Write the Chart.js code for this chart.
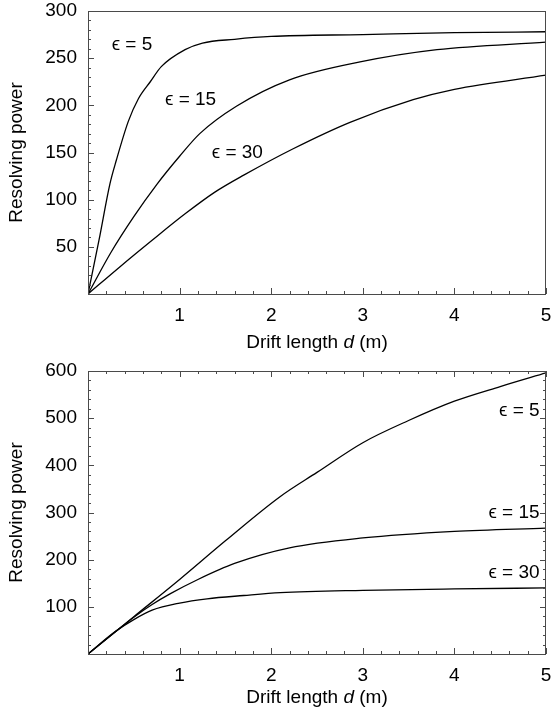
<!DOCTYPE html>
<html lang="en">
<head>
<meta charset="UTF-8">
<title>Resolving power vs drift length</title>
<script src="https://cdn.jsdelivr.net/npm/chart.js@4"></script>
<style>
  body { margin: 0; background: #fff; }
  .painel { position: relative; width: 553px; }
  #topo { height: 355px; }
  #baixo { height: 360px; }
</style>
</head>
<body>
<div class="painel" id="topo"><canvas id="grafico_topo"></canvas></div>
<div class="painel" id="baixo"><canvas id="grafico_baixo"></canvas></div>

<script>
// values: drift length d (m) -> resolving power
// top panel
var topD5 = [0, 0.12, 0.24, 0.31, 0.44, 0.55, 0.68, 0.8, 1.06, 1.25, 1.6, 2, 3, 4, 5];
var topR5 = [0, 57, 117, 142, 183, 207, 225, 241, 259, 266, 270, 273, 275, 277, 278];
var topD15 = [0, 0.25, 0.5, 0.75, 1.0, 1.22, 1.62, 2.2, 2.97, 3.81, 5];
var topR15 = [0, 44, 82, 116, 146, 170, 199, 227, 246, 259, 267];
var topD30 = [0, 0.35, 0.7, 1.06, 1.385, 1.7, 2.24, 2.86, 3.55, 4, 5];
var topR30 = [0, 29, 57, 85, 108, 126, 154, 182, 206, 217, 232];

// bottom panel
var botD5 = [0, 0.5, 1, 1.5, 2.1, 2.5, 3, 3.5, 4, 4.5, 5];
var botR5 = [0, 79, 158, 240, 334, 385, 448, 495, 536, 567, 596];
var botD15 = [0, 0.3, 0.5, 0.7, 0.9, 1.2, 1.6, 2.2, 3, 4, 5];
var botR15 = [0, 47, 78, 105, 128, 158, 192, 225, 246, 260, 267];
var botD30 = [0, 0.3, 0.5, 0.7, 1.0, 1.3, 1.7, 2.1, 3, 4, 5];
var botR30 = [0, 48, 73, 93, 108, 117, 124, 130, 135, 138, 140];

// curve labels and where they sit (in data units)
var rotulos = ["\u03F5 = 5", "\u03F5 = 15", "\u03F5 = 30"];
var topRotD = [0.48, 1.12, 1.63];
var topRotR = [264, 206, 150];
var botRotD = [4.93, 4.93, 4.93];
var botRotR = [516, 300, 173];

var fonte = "'Liberation Sans', Arial, sans-serif";

function pontos(ds, rs) {
    var lista = [];
    for (var i = 0; i < ds.length; i++) {
        lista.push({ x: ds[i], y: rs[i] });
    }
    return lista;
}

function serie(ds, rs) {
    return {
        data: pontos(ds, rs),
        borderColor: "#000",
        borderWidth: 1.3,
        pointRadius: 0,
        fill: false,
        cubicInterpolationMode: "monotone"
    };
}

// frame, inward ticks, curve labels and the x title with italic d
const moldura = {
    id: "moldura",
    afterDraw(chart, args, opts) {
        const ctx = chart.ctx;
        const a = chart.chartArea;
        const sx = chart.scales.x;
        const sy = chart.scales.y;
        ctx.save();
        ctx.strokeStyle = "#4a4a4a";
        ctx.lineWidth = 1;
        ctx.strokeRect(a.left + 0.5, a.top + 0.5, a.right - a.left - 1, a.bottom - a.top);

        ctx.beginPath();
        for (let i = 0; i <= 25; i++) {
            const px = Math.round(sx.getPixelForValue(i * 0.2)) + 0.5;
            const len = i % 5 == 0 ? 6 : 3;
            ctx.moveTo(px, a.bottom);
            ctx.lineTo(px, a.bottom - len);
            if (opts.todosLados) {
                ctx.moveTo(px, a.top);
                ctx.lineTo(px, a.top + len);
            }
        }
        for (let v = 0; v <= opts.yMax; v += opts.yMenor) {
            const py = Math.round(sy.getPixelForValue(v)) + 0.5;
            const len = v % opts.yMaior == 0 ? 6 : 3;
            ctx.moveTo(a.left, py);
            ctx.lineTo(a.left + len, py);
            if (opts.todosLados) {
                ctx.moveTo(a.right, py);
                ctx.lineTo(a.right - len, py);
            }
        }
        ctx.stroke();

        ctx.fillStyle = "#000";
        ctx.font = "19px " + fonte;
        ctx.textBaseline = "middle";
        ctx.textAlign = opts.alinhar;
        for (let i = 0; i < rotulos.length; i++) {
            ctx.fillText(rotulos[i], sx.getPixelForValue(opts.rotD[i]), sy.getPixelForValue(opts.rotR[i]));
        }

        // x title: "Drift length d (m)"
        const partes = [["Drift length ", "19px "], ["d", "italic 19px "], [" (m)", "19px "]];
        let total = 0;
        for (const p of partes) {
            ctx.font = p[1] + fonte;
            total += ctx.measureText(p[0]).width;
        }
        let x = (a.left + a.right) / 2 - total / 2;
        const y = chart.height - opts.tituloBaixo;
        ctx.textAlign = "left";
        for (const p of partes) {
            ctx.font = p[1] + fonte;
            ctx.fillText(p[0], x, y);
            x += ctx.measureText(p[0]).width;
        }
        ctx.restore();
    }
};

function criarGrafico(id, series, yMax, yPasso, padTopo, extras) {
    return new Chart(document.getElementById(id), {
        type: "line",
        data: { datasets: series },
        options: {
            responsive: true,
            maintainAspectRatio: false,
            animation: false,
            layout: { padding: { top: padTopo, right: 7, left: 0, bottom: 0 } },
            plugins: {
                legend: { display: false },
                tooltip: { enabled: false },
                moldura: extras
            },
            scales: {
                x: {
                    type: "linear",
                    min: 0,
                    max: 5,
                    grid: { display: false, drawTicks: false },
                    border: { display: false },
                    ticks: {
                        stepSize: 1,
                        padding: 10,
                        color: "#000",
                        font: { size: 19, family: fonte },
                        callback: (v) => (v == 0 ? "" : v)
                    },
                    afterFit: (s) => {
                        s.height = 61;
                        s.paddingLeft = 0;
                        s.paddingRight = 0;
                    }
                },
                y: {
                    min: 0,
                    max: yMax,
                    grid: { display: false, drawTicks: false },
                    border: { display: false },
                    title: {
                        display: true,
                        text: "Resolving power",
                        color: "#000",
                        font: { size: 19, family: fonte },
                        padding: { top: 5, bottom: 0 }
                    },
                    ticks: {
                        stepSize: yPasso,
                        padding: 11,
                        color: "#000",
                        font: { size: 19, family: fonte },
                        callback: (v) => (v == 0 ? "" : v)
                    },
                    afterFit: (s) => {
                        s.width = 88;
                        s.paddingTop = 0;
                        s.paddingBottom = 0;
                    }
                }
            }
        },
        plugins: [moldura]
    });
}

criarGrafico("grafico_topo",
    [serie(topD5, topR5), serie(topD15, topR15), serie(topD30, topR30)],
    300, 50, 11,
    { todosLados: false, yMax: 300, yMenor: 10, yMaior: 50, rotD: topRotD, rotR: topRotR, alinhar: "center", tituloBaixo: 12.5 });

criarGrafico("grafico_baixo",
    [serie(botD5, botR5), serie(botD15, botR15), serie(botD30, botR30)],
    600, 100, 16,
    { todosLados: true, yMax: 600, yMenor: 20, yMaior: 100, rotD: botRotD, rotR: botRotR, alinhar: "right", tituloBaixo: 17 });
</script>
</body>
</html>
